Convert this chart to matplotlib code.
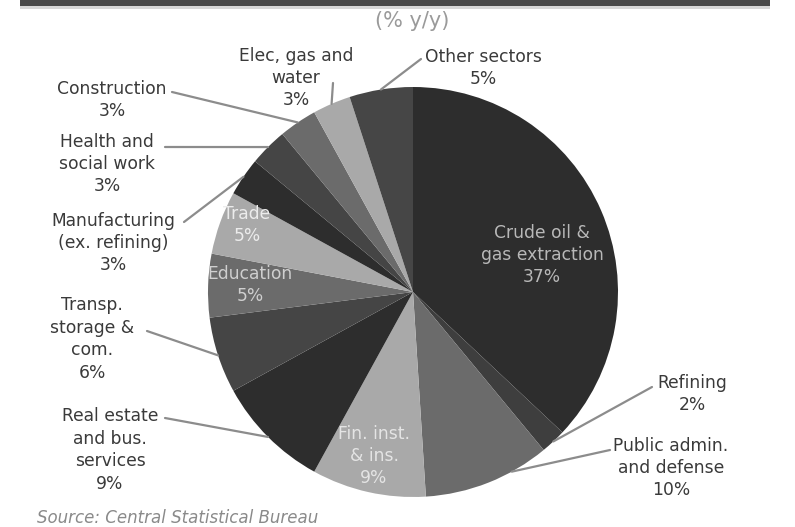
import matplotlib
matplotlib.use("Agg")
import matplotlib.pyplot as plt
import numpy as np

plt.rcParams['font.family'] = ['DejaVu Sans']

sectors = ["Crude oil &\ngas extraction", "Refining", "Public admin.\nand defense",
           "Fin. inst.\n& ins.", "Real estate\nand bus.\nservices", "Transp.\nstorage &\ncom.",
           "Education", "Trade", "Manufacturing\n(ex. refining)", "Health and\nsocial work",
           "Construction", "Elec, gas and\nwater", "Other sectors"]
shares = [37, 2, 10, 9, 9, 6, 5, 5, 3, 3, 3, 3, 5]
colors = ["#2d2d2d", "#3e3e3e", "#6b6b6b", "#a9a9a9", "#2d2d2d", "#454545", "#6b6b6b",
          "#a9a9a9", "#2d2d2d", "#454545", "#6b6b6b", "#a9a9a9", "#464646"]

W, H = 795, 527
CX, CY, R = 413, 292, 205

fig = plt.figure(figsize=(W / 100, H / 100), dpi=100)
fig.patch.set_facecolor("white")

# top band
fig.patches.append(plt.Rectangle((20 / W, 1 - 6 / H), 750 / W, 6 / H, transform=fig.transFigure,
                                 facecolor="#4a4a4a", edgecolor="none"))
fig.patches.append(plt.Rectangle((20 / W, 1 - 9 / H), 750 / W, 3 / H, transform=fig.transFigure,
                                 facecolor="#d8d8d8", edgecolor="none"))
fig.text(412 / W, 1 - 21 / H, "(% y/y)", ha="center", va="center", fontsize=15,
         color="#9a9a9a")
fig.text(37 / W, 1 - 509 / H, "Source: Central Statistical Bureau", ha="left", va="top",
         fontsize=12, color="#8a8a8a", style="italic")

ax = fig.add_axes([(CX - R) / W, (H - CY - R) / H, 2 * R / W, 2 * R / H])
wedges, _ = ax.pie(shares, colors=colors, startangle=90, counterclock=False,
                   radius=1.0, wedgeprops=dict(linewidth=0))
ax.set_xlim(-1, 1)
ax.set_ylim(-1, 1)
ax.axis("off")


def px(x, y):
    return (x - CX) / R, (CY - y) / R


FS = 12.3
LS = 1.32

# inside labels: index -> (center px, color)
inside = {
    0: ((542, 255), "#b8b8b8"),
    3: ((374, 456), "#e4e4e4"),
    6: ((250, 285), "#cfcfcf"),
    7: ((247, 225), "#ececec"),
}
for i, ((x, y), c) in inside.items():
    tx, ty = px(x, y)
    ax.text(tx, ty, f"{sectors[i]}\n{shares[i]}%", ha="center", va="center",
            fontsize=FS, color=c, linespacing=LS, clip_on=False)

# outside labels: index -> (text center px, leader start px, position within wedge)
outside = {
    1: ((692, 394), (652, 387), 0.5),
    2: ((671, 468), (610, 450), 0.3),
    4: ((110, 450), (165, 418), 0.5),
    5: ((92, 339), (147, 331), 0.5),
    8: ((113, 243), (184, 222), 0.5),
    9: ((107, 164), (165, 147), 0.5),
    10: ((112, 100), (172, 92), 0.5),
    11: ((296, 78), (333, 83), 0.5),
    12: ((483, 68), (421, 59), 0.5),
}
for i, ((x, y), (sx, sy), f) in outside.items():
    tx, ty = px(x, y)
    ax.text(tx, ty, f"{sectors[i]}\n{shares[i]}%", ha="center", va="center",
            fontsize=FS, color="#3a3a3a", linespacing=LS, clip_on=False)
    w = wedges[i]
    mid = np.deg2rad(w.theta2 + f * (w.theta1 - w.theta2))
    ex, ey = 1.0 * np.cos(mid), 1.0 * np.sin(mid)
    lx, ly = px(sx, sy)
    ax.plot([lx, ex], [ly, ey], color="#8c8c8c", lw=1.6, clip_on=False,
            solid_capstyle="round")

fig.savefig("out.png", dpi=100, facecolor="white")
